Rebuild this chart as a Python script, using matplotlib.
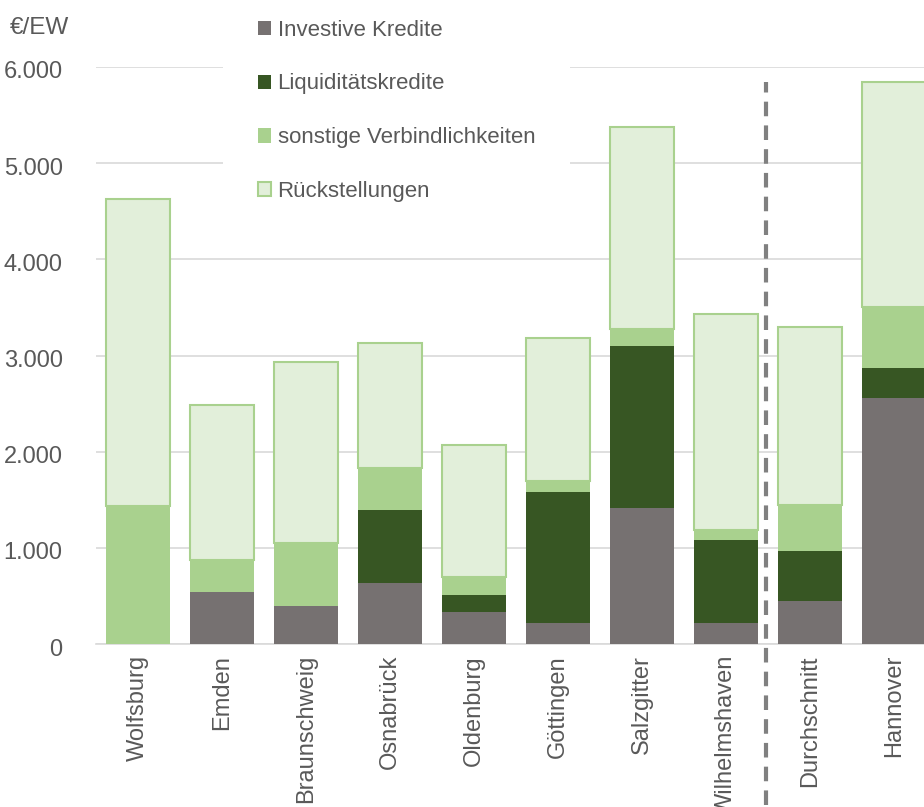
import numpy as np
import matplotlib.pyplot as plt
from matplotlib.transforms import ScaledTranslation

plt.rcParams['font.family'] = ['Liberation Sans', 'DejaVu Sans']

staedte = ['Wolfsburg', 'Emden', 'Braunschweig', 'Osnabrück', 'Oldenburg',
           'Göttingen', 'Salzgitter', 'Wilhelmshaven', 'Durchschnitt', 'Hannover']
investive = [0, 540, 400, 635, 335, 215, 1415, 215, 445, 2560]
liquiditaet = [0, 0, 0, 755, 170, 1370, 1680, 870, 520, 305]
sonstige = [1430, 335, 650, 445, 190, 110, 180, 100, 480, 640]
rueckstellungen = [3200, 1615, 1885, 1295, 1370, 1490, 2105, 2245, 1855, 2335]

c_inv = '#767171'
c_liq = '#375623'
c_son = '#a9d18e'
c_rue = '#e2efda'
txt = '#595959'

fig = plt.figure(figsize=(9.24, 8.07), dpi=100)
ax = fig.add_axes([96 / 924, 163 / 807, 840 / 924, 577 / 807])

x = np.arange(len(staedte))
w = 0.76
b1 = np.array(investive)
b2 = b1 + np.array(liquiditaet)
b3 = b2 + np.array(sonstige)

ax.bar(x, investive, w, color=c_inv, label='Investive Kredite', zorder=3)
ax.bar(x, liquiditaet, w, bottom=b1, color=c_liq, label='Liquiditätskredite', zorder=3)
ax.bar(x, sonstige, w, bottom=b2, color=c_son, label='sonstige Verbindlichkeiten', zorder=3)
ax.bar(x, rueckstellungen, w, bottom=b3, color=c_rue, edgecolor=c_son,
       linewidth=1.5, label='Rückstellungen', zorder=3)

ax.set_xlim(-0.5, 9.5)
ax.set_ylim(0, 6000)
ax.set_yticks(range(0, 6001, 1000))
ax.set_yticklabels(['0', '1.000', '2.000', '3.000', '4.000', '5.000', '6.000'])
ax.set_xticks(x)
ax.set_xticklabels(staedte, rotation=90)
ax.tick_params(axis='both', length=0, labelsize=17, colors=txt)
ax.tick_params(axis='y', pad=24)
ax.tick_params(axis='x', pad=8)
for lab in ax.get_yticklabels():
    lab.set_transform(lab.get_transform() + ScaledTranslation(0, -3 / 100, fig.dpi_scale_trans))

ax.grid(axis='y', color='#d9d9d9', linewidth=1.2, zorder=0)
ax.set_axisbelow(True)
for s in ['top', 'right', 'left']:
    ax.spines[s].set_visible(False)
ax.spines['bottom'].set_color('#d9d9d9')
ax.spines['bottom'].set_linewidth(1.2)

# Trennlinie vor dem Durchschnitt
ax.plot([7.48, 7.48], [-1675, 5840], color='#808080', linewidth=3,
        dashes=(3.5, 2.2), clip_on=False, zorder=4)

fig.text(10 / 924, 1 - 28 / 807, '€/EW', fontsize=17.5, color=txt, va='center')

leg = ax.legend(loc='upper left', bbox_to_anchor=(212 / 924, 1 + 26 / 807),
                bbox_transform=fig.transFigure, fontsize=16, frameon=True,
                facecolor='white', edgecolor='none', framealpha=1, fancybox=False,
                handlelength=0.6, handleheight=0.6, handletextpad=0.3,
                labelspacing=1.48, borderpad=1.55)
for t in leg.get_texts():
    t.set_color(txt)
leg.set_zorder(5)

plt.savefig('out.png', dpi=100)
